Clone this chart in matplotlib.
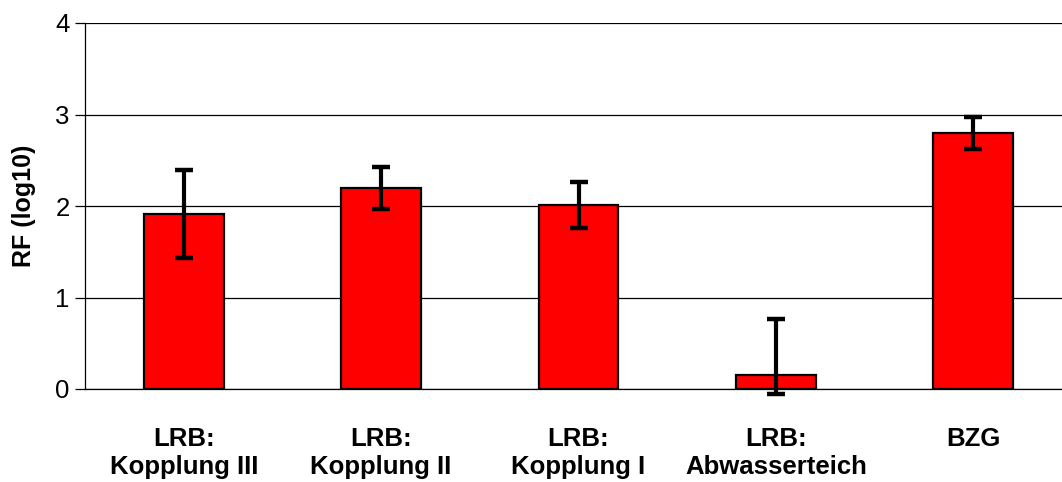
import matplotlib
matplotlib.use("Agg")
import matplotlib.pyplot as plt
import numpy as np

categories = ["LRB:\nKopplung III", "LRB:\nKopplung II", "LRB:\nKopplung I", "LRB:\nAbwasserteich", "BZG"]
values = [1.91, 2.20, 2.01, 0.15, 2.80]
err_low = [0.48, 0.23, 0.25, 0.20, 0.18]
err_high = [0.48, 0.23, 0.25, 0.62, 0.17]
yticks = [0, 1, 2, 3, 4]

plt.rcParams['font.family'] = ['Liberation Sans', 'DejaVu Sans']

fig = plt.figure(figsize=(10.62, 4.82), dpi=100)
ax = fig.add_axes([85/1062, 93/482, 987/1062, 366/482])

x = np.arange(len(categories))
ax.bar(x, values, width=0.405, color='#ff0000', edgecolor='black', linewidth=1.6, zorder=2)
ax.errorbar(x, values, yerr=[err_low, err_high], fmt='none', ecolor='black',
            elinewidth=3.0, capsize=6.5, capthick=3.2, zorder=3, clip_on=False)

ax.set_xlim(-0.5, 4.5)
ax.set_ylim(0, 4)
ax.set_yticks(yticks)
ax.set_yticklabels([str(t) for t in yticks], fontsize=18.5)
ax.yaxis.grid(True, color='black', linewidth=0.9, zorder=0)
ax.set_axisbelow(True)
ax.set_xticks(x)
ax.set_xticklabels(categories, fontsize=18.5, fontweight='bold', linespacing=1.25)
ax.tick_params(axis='x', length=0, pad=27)
ax.tick_params(axis='y', length=7, width=0.9, pad=4)
ax.set_ylabel("RF (log10)", fontsize=18, fontweight='bold', labelpad=14)

for s in ['top', 'right']:
    ax.spines[s].set_visible(False)
ax.spines['left'].set_linewidth(0.9)
ax.spines['bottom'].set_linewidth(0.9)

fig.savefig("out.png", dpi=100)
